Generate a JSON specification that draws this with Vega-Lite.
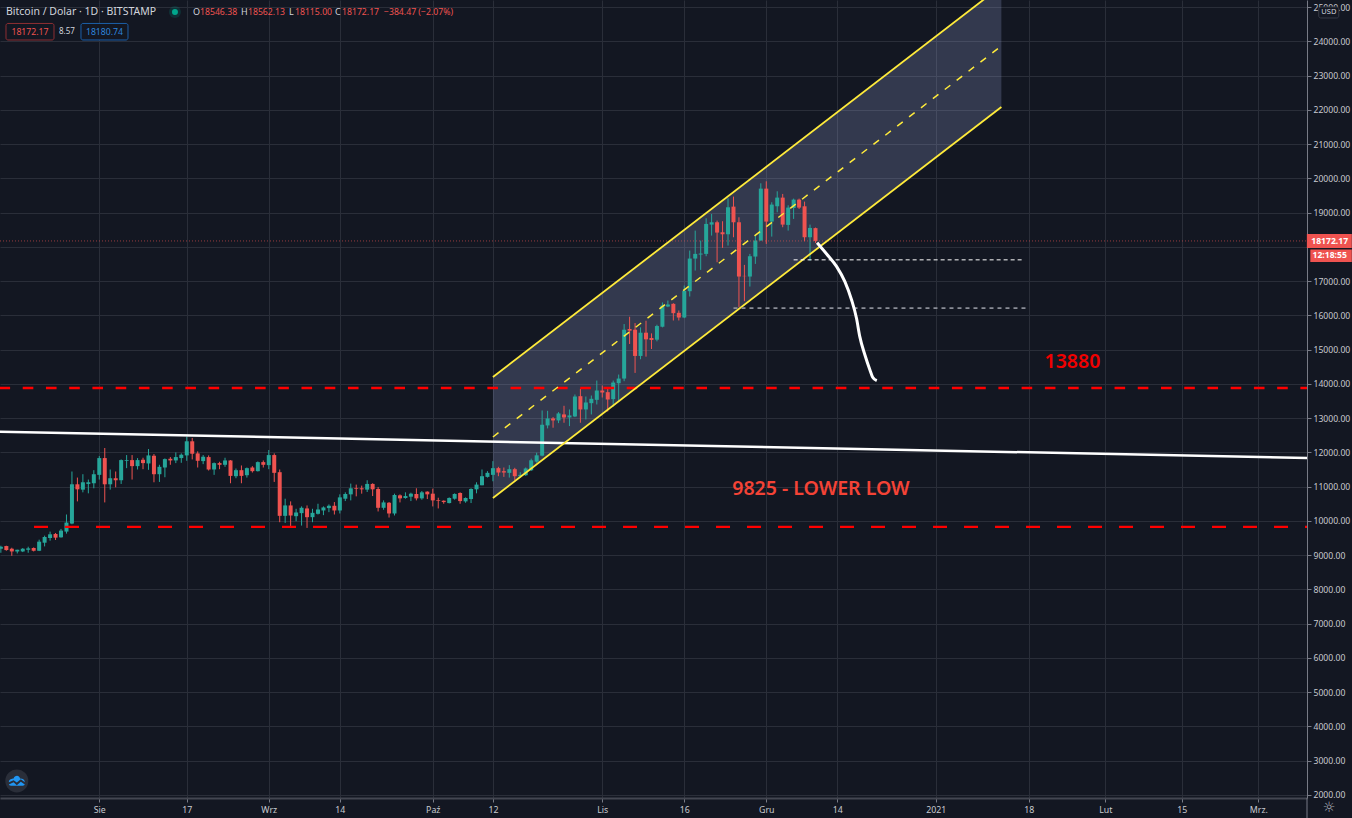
{"$schema":"https://vega.github.io/schema/vega-lite/v6.json","width":1307,"height":798,"autosize":"none","padding":{"left":0,"top":0,"right":45,"bottom":20},"background":"#131722","view":{"stroke":null,"fill":"#131722"},
"config":{"font":"Noto Sans","text":{"font":"Noto Sans"},"axis":{"labelOverlap":false,"labelSeparation":0}},
"datasets":{
"candles":[
{"date":"2020-07-14","open":9188,"high":9276,"low":9070,"close":9247},{"date":"2020-07-15","open":9266,"high":9276,"low":9129,"close":9149},{"date":"2020-07-16","open":9188,"high":9217,"low":8982,"close":9109},{"date":"2020-07-17","open":9109,"high":9158,"low":9051,"close":9158},{"date":"2020-07-18","open":9109,"high":9207,"low":9090,"close":9188},{"date":"2020-07-19","open":9158,"high":9247,"low":9070,"close":9198},{"date":"2020-07-20","open":9207,"high":9227,"low":9109,"close":9129},{"date":"2020-07-21","open":9129,"high":9452,"low":9119,"close":9394},{"date":"2020-07-22","open":9364,"high":9570,"low":9256,"close":9531},{"date":"2020-07-23","open":9501,"high":9688,"low":9423,"close":9609},{"date":"2020-07-24","open":9619,"high":9648,"low":9443,"close":9511},{"date":"2020-07-25","open":9521,"high":9766,"low":9511,"close":9717},{"date":"2020-07-26","open":9688,"high":10187,"low":9629,"close":9952},{"date":"2020-07-27","open":9923,"high":11442,"low":9903,"close":11069},{"date":"2020-07-28","open":11069,"high":11265,"low":10570,"close":10922},{"date":"2020-07-29","open":10913,"high":11363,"low":10834,"close":11128},{"date":"2020-07-30","open":11079,"high":11207,"low":10805,"close":11128},{"date":"2020-07-31","open":11099,"high":11481,"low":10952,"close":11363},
{"date":"2020-08-01","open":11344,"high":11893,"low":11207,"close":11834},{"date":"2020-08-02","open":11834,"high":12128,"low":10540,"close":11069},{"date":"2020-08-03","open":11069,"high":11501,"low":10913,"close":11246},{"date":"2020-08-04","open":11246,"high":11442,"low":10981,"close":11187},{"date":"2020-08-05","open":11187,"high":11795,"low":11079,"close":11775},{"date":"2020-08-06","open":11755,"high":11922,"low":11540,"close":11775},{"date":"2020-08-07","open":11775,"high":11922,"low":11207,"close":11599},{"date":"2020-08-08","open":11599,"high":11834,"low":11501,"close":11775},{"date":"2020-08-09","open":11785,"high":11844,"low":11510,"close":11687},{"date":"2020-08-10","open":11677,"high":12098,"low":11491,"close":11912},{"date":"2020-08-11","open":11902,"high":11951,"low":11128,"close":11363},{"date":"2020-08-12","open":11363,"high":11638,"low":11138,"close":11579},{"date":"2020-08-13","open":11559,"high":11824,"low":11275,"close":11804},{"date":"2020-08-14","open":11814,"high":11863,"low":11638,"close":11765},{"date":"2020-08-15","open":11765,"high":12000,"low":11687,"close":11863},{"date":"2020-08-16","open":11834,"high":11971,"low":11696,"close":11932},{"date":"2020-08-17","open":11912,"high":12461,"low":11755,"close":12324},{"date":"2020-08-18","open":12324,"high":12422,"low":11795,"close":11961},{"date":"2020-08-19","open":11971,"high":12030,"low":11559,"close":11755},{"date":"2020-08-20","open":11746,"high":11922,"low":11657,"close":11873},{"date":"2020-08-21","open":11863,"high":11912,"low":11471,"close":11501},{"date":"2020-08-22","open":11501,"high":11706,"low":11344,"close":11687},{"date":"2020-08-23","open":11687,"high":11726,"low":11510,"close":11638},{"date":"2020-08-24","open":11638,"high":11844,"low":11579,"close":11765},{"date":"2020-08-25","open":11765,"high":11775,"low":11099,"close":11314},{"date":"2020-08-26","open":11305,"high":11530,"low":11246,"close":11481},{"date":"2020-08-27","open":11481,"high":11618,"low":11099,"close":11314},{"date":"2020-08-28","open":11334,"high":11559,"low":11265,"close":11540},{"date":"2020-08-29","open":11559,"high":11599,"low":11412,"close":11452},{"date":"2020-08-30","open":11452,"high":11736,"low":11442,"close":11716},{"date":"2020-08-31","open":11716,"high":11765,"low":11559,"close":11638},
{"date":"2020-09-01","open":11628,"high":12069,"low":11510,"close":11922},{"date":"2020-09-02","open":11922,"high":11971,"low":11138,"close":11403},{"date":"2020-09-03","open":11422,"high":11501,"low":9962,"close":10148},{"date":"2020-09-04","open":10148,"high":10648,"low":9942,"close":10452},{"date":"2020-09-05","open":10452,"high":10570,"low":9815,"close":10158},{"date":"2020-09-06","open":10138,"high":10354,"low":9991,"close":10246},{"date":"2020-09-07","open":10227,"high":10423,"low":9864,"close":10383},{"date":"2020-09-08","open":10364,"high":10452,"low":9795,"close":10109},{"date":"2020-09-09","open":10109,"high":10354,"low":9962,"close":10236},{"date":"2020-09-10","open":10207,"high":10501,"low":10187,"close":10334},{"date":"2020-09-11","open":10305,"high":10423,"low":10168,"close":10393},{"date":"2020-09-12","open":10374,"high":10481,"low":10256,"close":10442},{"date":"2020-09-13","open":10442,"high":10550,"low":10187,"close":10305},{"date":"2020-09-14","open":10305,"high":10775,"low":10217,"close":10687},{"date":"2020-09-15","open":10648,"high":10834,"low":10579,"close":10785},{"date":"2020-09-16","open":10775,"high":11089,"low":10599,"close":10952},{"date":"2020-09-17","open":10952,"high":11060,"low":10717,"close":10932},{"date":"2020-09-18","open":10952,"high":11030,"low":10795,"close":10922},{"date":"2020-09-19","open":10913,"high":11187,"low":10844,"close":11079},{"date":"2020-09-20","open":11079,"high":11099,"low":10726,"close":10922},{"date":"2020-09-21","open":10932,"high":10991,"low":10276,"close":10383},{"date":"2020-09-22","open":10383,"high":10599,"low":10325,"close":10540},{"date":"2020-09-23","open":10530,"high":10550,"low":10099,"close":10217},{"date":"2020-09-24","open":10217,"high":10795,"low":10158,"close":10756},{"date":"2020-09-25","open":10746,"high":10775,"low":10540,"close":10658},{"date":"2020-09-26","open":10668,"high":10834,"low":10648,"close":10726},{"date":"2020-09-27","open":10707,"high":10824,"low":10579,"close":10795},{"date":"2020-09-28","open":10785,"high":10952,"low":10599,"close":10658},{"date":"2020-09-29","open":10658,"high":10873,"low":10619,"close":10834},{"date":"2020-09-30","open":10854,"high":10864,"low":10638,"close":10775},
{"date":"2020-10-01","open":10795,"high":10942,"low":10423,"close":10599},{"date":"2020-10-02","open":10609,"high":10677,"low":10364,"close":10589},{"date":"2020-10-03","open":10589,"high":10599,"low":10501,"close":10550},{"date":"2020-10-04","open":10521,"high":10687,"low":10511,"close":10668},{"date":"2020-10-05","open":10648,"high":10805,"low":10619,"close":10785},{"date":"2020-10-06","open":10815,"high":10834,"low":10501,"close":10579},{"date":"2020-10-07","open":10570,"high":10687,"low":10530,"close":10668},{"date":"2020-10-08","open":10638,"high":10952,"low":10521,"close":10932},{"date":"2020-10-09","open":10922,"high":11128,"low":10805,"close":11060},{"date":"2020-10-10","open":11040,"high":11501,"low":11040,"close":11305},{"date":"2020-10-11","open":11285,"high":11452,"low":11265,"close":11403},{"date":"2020-10-12","open":11344,"high":11745,"low":11157,"close":11540},{"date":"2020-10-13","open":11540,"high":11579,"low":11305,"close":11412},{"date":"2020-10-14","open":11452,"high":11559,"low":11285,"close":11412},{"date":"2020-10-15","open":11403,"high":11628,"low":11265,"close":11510},{"date":"2020-10-16","open":11510,"high":11550,"low":11187,"close":11305},{"date":"2020-10-17","open":11305,"high":11422,"low":11265,"close":11344},{"date":"2020-10-18","open":11334,"high":11559,"low":11314,"close":11530},{"date":"2020-10-19","open":11478,"high":11818,"low":11459,"close":11769},{"date":"2020-10-20","open":11730,"high":11992,"low":11701,"close":11915},{"date":"2020-10-21","open":11905,"high":13224,"low":11885,"close":12807},{"date":"2020-10-22","open":12787,"high":13214,"low":12700,"close":12991},{"date":"2020-10-23","open":12991,"high":13030,"low":12720,"close":12933},{"date":"2020-10-24","open":12933,"high":13176,"low":12855,"close":13137},{"date":"2020-10-25","open":13108,"high":13360,"low":12865,"close":13020},{"date":"2020-10-26","open":13020,"high":13253,"low":12768,"close":13079},{"date":"2020-10-27","open":13049,"high":13690,"low":13030,"close":13631},{"date":"2020-10-28","open":13641,"high":13855,"low":12865,"close":13253},{"date":"2020-10-29","open":13253,"high":13631,"low":12962,"close":13457},{"date":"2020-10-30","open":13437,"high":13660,"low":13108,"close":13564},{"date":"2020-10-31","open":13534,"high":14097,"low":13399,"close":13806},
{"date":"2020-11-01","open":13806,"high":13952,"low":13602,"close":13748},{"date":"2020-11-02","open":13758,"high":13884,"low":13195,"close":13544},{"date":"2020-11-03","open":13554,"high":14097,"low":13340,"close":14039},{"date":"2020-11-04","open":14019,"high":14272,"low":13496,"close":14155},{"date":"2020-11-05","open":14155,"high":15746,"low":14078,"close":15581},{"date":"2020-11-06","open":15601,"high":15959,"low":15164,"close":15552},{"date":"2020-11-07","open":15581,"high":15775,"low":14320,"close":14815},{"date":"2020-11-08","open":14815,"high":15649,"low":14718,"close":15494},{"date":"2020-11-09","open":15494,"high":15843,"low":14795,"close":15300},{"date":"2020-11-10","open":15339,"high":15474,"low":15018,"close":15280},{"date":"2020-11-11","open":15290,"high":15727,"low":15242,"close":15688},{"date":"2020-11-12","open":15668,"high":16377,"low":15649,"close":16287},{"date":"2020-11-13","open":16258,"high":16433,"low":16239,"close":16317},{"date":"2020-11-14","open":16336,"high":16355,"low":15850,"close":16064},{"date":"2020-11-15","open":16074,"high":16142,"low":15850,"close":15937},{"date":"2020-11-16","open":15937,"high":16871,"low":15918,"close":16715},{"date":"2020-11-17","open":16705,"high":17891,"low":16550,"close":17658},{"date":"2020-11-18","open":17658,"high":18474,"low":17308,"close":17794},{"date":"2020-11-19","open":17775,"high":18183,"low":17327,"close":17804},{"date":"2020-11-20","open":17794,"high":18834,"low":17726,"close":18669},{"date":"2020-11-21","open":18649,"high":18960,"low":18329,"close":18717},{"date":"2020-11-22","open":18717,"high":18766,"low":17551,"close":18416},{"date":"2020-11-23","open":18426,"high":18747,"low":17969,"close":18367},{"date":"2020-11-24","open":18367,"high":19417,"low":18037,"close":19155},{"date":"2020-11-25","open":19174,"high":19466,"low":18280,"close":18717},{"date":"2020-11-26","open":18717,"high":18863,"low":16239,"close":17133},{"date":"2020-11-27","open":17152,"high":17473,"low":16414,"close":17143},{"date":"2020-11-28","open":17133,"high":17794,"low":16841,"close":17726},{"date":"2020-11-29","open":17716,"high":18329,"low":17502,"close":18183},{"date":"2020-11-30","open":18183,"high":19855,"low":18183,"close":19699},
{"date":"2020-12-01","open":19699,"high":19913,"low":18086,"close":18737},{"date":"2020-12-02","open":18737,"high":19301,"low":18299,"close":19233},{"date":"2020-12-03","open":19184,"high":19621,"low":19009,"close":19437},{"date":"2020-12-04","open":19437,"high":19544,"low":18572,"close":18649},{"date":"2020-12-05","open":18640,"high":19213,"low":18474,"close":19145},{"date":"2020-12-06","open":19135,"high":19408,"low":18815,"close":19378},{"date":"2020-12-07","open":19378,"high":19408,"low":19106,"close":19145},{"date":"2020-12-08","open":19184,"high":19320,"low":18163,"close":18280},{"date":"2020-12-09","open":18280,"high":18649,"low":17600,"close":18552},{"date":"2020-12-10","open":18546.38,"high":18562.13,"low":18115,"close":18172.17}
],
"channel":[{"date":"2020-10-12","upper":14201,"mid":12450,"lower":10670},{"date":"2021-01-13","upper":25614,"mid":23863,"lower":22082}],
"curve":[{"date":"2020-12-10T07:00:00Z","price":18121},{"date":"2020-12-12T01:00:00Z","price":17792},{"date":"2020-12-13T21:00:00Z","price":17421},{"date":"2020-12-15T09:00:00Z","price":16983},{"date":"2020-12-16T14:30:00Z","price":16449},{"date":"2020-12-17T12:00:00Z","price":15915},{"date":"2020-12-18T02:30:00Z","price":15378},{"date":"2020-12-19T01:00:00Z","price":14844},{"date":"2020-12-19T23:00:00Z","price":14406},{"date":"2020-12-20T11:00:00Z","price":14193},{"date":"2020-12-21T05:00:00Z","price":14093}]
},
"layer":[
{"data":{"name":"channel"},"mark":{"type":"area","clip":true,"color":"#b4c4ff","opacity":0.2,"interpolate":"linear"},
"encoding":{"x":{"field":"date","type":"temporal","title":null,"scale":{"type":"utc","padding":0,"domain":["2020-07-13T20:10:00Z","2021-03-09T21:36:00Z"]},
"axis":{"orient":"bottom","title":null,"values":["2020-08-01","2020-08-17","2020-09-01","2020-09-14","2020-10-01","2020-10-12","2020-11-01","2020-11-16","2020-12-01","2020-12-14","2021-01-01","2021-01-18","2021-02-01","2021-02-15","2021-03-01"],"labelExpr":"utcdate(datum.value)==1 ? ['2021','Lut','Mrz.','','','','','Sie','Wrz','Paź','Lis','Gru'][utcmonth(datum.value)] : ''+utcdate(datum.value)","grid":true,"gridColor":"#2a2e39","gridWidth":1,"tickSize":4,"tickColor":"#787b86","domainColor":"#434651","domainWidth":2,"labelColor":"#c8cad0","labelFontSize":8.8,"labelFont":"Noto Sans","labelPadding":3,"labelOverlap":false,"labelFlush":false,"labelBound":false,"zindex":0}},
"y":{"field":"upper","type":"quantitative","title":null,"scale":{"domain":[1912,25205],"nice":false,"zero":false},
"axis":{"orient":"right","title":null,"values":[2000,3000,4000,5000,6000,7000,8000,9000,10000,11000,12000,13000,14000,15000,16000,17000,18000,19000,20000,21000,22000,23000,24000,25000],"tickCount":24,"labelExpr":"datum.value==18000 ? '' : format(datum.value,'.2f')","grid":true,"gridColor":"#2a2e39","gridWidth":1,"tickSize":4,"tickColor":"#787b86","domainColor":"#787b86","domainWidth":1,"labelColor":"#c8cad0","labelFontSize":8.6,"labelFont":"Noto Sans","labelPadding":2,"labelOverlap":false,"labelFlush":false,"labelBound":false,"zindex":0}},
"y2":{"field":"lower"}}},
{"data":{"name":"candles"},"mark":{"type":"rule","strokeWidth":1},"encoding":{"x":{"field":"date","type":"temporal"},"y":{"field":"low","type":"quantitative"},"y2":{"field":"high"},"color":{"condition":{"test":"datum.close>=datum.open","value":"#26a69a"},"value":"#ef5350"}}},
{"data":{"name":"candles"},"mark":{"type":"bar","size":4},"encoding":{"x":{"field":"date","type":"temporal"},"y":{"field":"open","type":"quantitative"},"y2":{"field":"close"},"color":{"condition":{"test":"datum.close>=datum.open","value":"#26a69a"},"value":"#ef5350"}}},
{"data":{"values":[{"date":"2020-07-13T20:10:00Z","price":18172.17},{"date":"2021-03-09T21:36:00Z","price":18172.17}]},"mark":{"type":"line","color":"#ef5350","opacity":0.6,"strokeWidth":1,"strokeDash":[1,2]},"encoding":{"x":{"field":"date","type":"temporal"},"y":{"field":"price","type":"quantitative"}}},
{"data":{"values":[{"date":"2020-07-13T20:10:00Z","price":12605},{"date":"2021-03-09T21:36:00Z","price":11837}]},"mark":{"type":"line","color":"#ffffff","strokeWidth":2.5},"encoding":{"x":{"field":"date","type":"temporal"},"y":{"field":"price","type":"quantitative"}}},
{"data":{"values":[{"date":"2020-07-13T20:10:00Z","price":13880},{"date":"2021-03-09T21:36:00Z","price":13880}]},"mark":{"type":"line","color":"#ff0000","strokeWidth":2.3,"strokeDash":[10.6,12.63],"strokeDashOffset":0.5},"encoding":{"x":{"field":"date","type":"temporal"},"y":{"field":"price","type":"quantitative"}}},
{"data":{"values":[{"date":"2020-07-20T01:30:00Z","price":9825},{"date":"2021-03-09T21:36:00Z","price":9825}]},"mark":{"type":"line","color":"#ff0000","strokeWidth":2.3,"strokeDash":[14,17]},"encoding":{"x":{"field":"date","type":"temporal"},"y":{"field":"price","type":"quantitative"}}},
{"data":{"name":"channel"},"mark":{"type":"line","clip":true,"color":"#ffeb3b","strokeWidth":1.8},"encoding":{"x":{"field":"date","type":"temporal"},"y":{"field":"upper","type":"quantitative"}}},
{"data":{"name":"channel"},"mark":{"type":"line","clip":true,"color":"#ffeb3b","strokeWidth":1.5,"strokeDash":[7,8]},"encoding":{"x":{"field":"date","type":"temporal"},"y":{"field":"mid","type":"quantitative"}}},
{"data":{"name":"channel"},"mark":{"type":"line","clip":true,"color":"#ffeb3b","strokeWidth":1.8},"encoding":{"x":{"field":"date","type":"temporal"},"y":{"field":"lower","type":"quantitative"}}},
{"data":{"values":[{"date":"2020-12-06","price":17620},{"date":"2021-01-17","price":17620}]},"mark":{"type":"line","color":"#ffffff","strokeWidth":1,"strokeDash":[4,3]},"encoding":{"x":{"field":"date","type":"temporal"},"y":{"field":"price","type":"quantitative"}}},
{"data":{"values":[{"date":"2020-11-25","price":16210},{"date":"2021-01-18","price":16210}]},"mark":{"type":"line","color":"#8a8d97","strokeWidth":1.8,"strokeDash":[4,4]},"encoding":{"x":{"field":"date","type":"temporal"},"y":{"field":"price","type":"quantitative"}}},
{"data":{"name":"curve"},"mark":{"type":"line","color":"#ffffff","strokeWidth":3,"interpolate":"monotone"},"encoding":{"x":{"field":"date","type":"temporal"},"y":{"field":"price","type":"quantitative"}}},
{"data":{"values":[{"date":"2021-01-26","price":14639,"label":"13880"}]},"mark":{"type":"text","color":"#f00000","font":"Noto Sans","fontSize":19.5,"fontWeight":600,"align":"center","baseline":"middle"},"encoding":{"x":{"field":"date","type":"temporal"},"y":{"field":"price","type":"quantitative"},"text":{"field":"label"}}},
{"data":{"values":[{"date":"2020-12-11","price":10932,"label":"9825 - LOWER LOW"}]},"mark":{"type":"text","color":"#f44336","font":"Noto Sans","fontSize":19.5,"fontWeight":600,"align":"center","baseline":"middle"},"encoding":{"x":{"field":"date","type":"temporal"},"y":{"field":"price","type":"quantitative"},"text":{"field":"label"}}},
{"data":{"values":[{"date":"2020-07-14T22:30:00Z","price":24855,"label":"Bitcoin / Dolar · 1D · BITSTAMP"}]},"mark":{"type":"text","color":"#d1d4dc","font":"Noto Sans","fontSize":10.5,"align":"left","baseline":"middle"},"encoding":{"x":{"field":"date","type":"temporal"},"y":{"field":"price","type":"quantitative"},"text":{"field":"label"}}},
{"data":{"values":[{"date":"2020-08-14T20:10:00Z","price":24855}]},"mark":{"type":"point","filled":true,"color":"#009688","opacity":0.2,"size":144},"encoding":{"x":{"field":"date","type":"temporal"},"y":{"field":"price","type":"quantitative"}}},
{"data":{"values":[{"date":"2020-08-14T20:10:00Z","price":24855}]},"mark":{"type":"point","filled":true,"color":"#00a68c","opacity":1,"size":36},"encoding":{"x":{"field":"date","type":"temporal"},"y":{"field":"price","type":"quantitative"}}},
{"data":{"values":[{"date":"2020-08-18T03:20:00Z","price":24855,"label":"O"},{"date":"2020-08-26T21:50:00Z","price":24855,"label":"H"},{"date":"2020-09-04T16:35:00Z","price":24855,"label":"L"},{"date":"2020-09-13T02:40:00Z","price":24855,"label":"C"}]},"mark":{"type":"text","color":"#d1d4dc","font":"Noto Sans","fontSize":9,"align":"left","baseline":"middle"},"encoding":{"x":{"field":"date","type":"temporal"},"y":{"field":"price","type":"quantitative"},"text":{"field":"label"}}},
{"data":{"values":[{"date":"2020-08-19T10:05:00Z","price":24855,"label":"18546.38"},{"date":"2020-08-28T04:35:00Z","price":24855,"label":"18562.13"},{"date":"2020-09-05T19:00:00Z","price":24855,"label":"18115.00"},{"date":"2020-09-14T09:20:00Z","price":24855,"label":"18172.17"},{"date":"2020-09-22T01:40:00Z","price":24855,"label":"−384.47 (−2.07%)"}]},"mark":{"type":"text","color":"#ef5350","font":"Noto Sans","fontSize":8.7,"align":"left","baseline":"middle"},"encoding":{"x":{"field":"date","type":"temporal"},"y":{"field":"price","type":"quantitative"},"text":{"field":"label"}}},
{"data":{"values":[{"date":"2020-07-14T22:30:00Z","date2":"2020-07-23T17:10:00Z","top":24520,"bottom":24038}]},"mark":{"type":"rect","fill":"#131722","stroke":"#8f2f33","strokeWidth":1,"cornerRadius":2},"encoding":{"x":{"field":"date","type":"temporal"},"x2":{"field":"date2"},"y":{"field":"top","type":"quantitative"},"y2":{"field":"bottom"}}},
{"data":{"values":[{"date":"2020-07-28T15:40:00Z","date2":"2020-08-06T06:00:00Z","top":24520,"bottom":24038}]},"mark":{"type":"rect","fill":"#131722","stroke":"#1c5fa8","strokeWidth":1,"cornerRadius":2},"encoding":{"x":{"field":"date","type":"temporal"},"x2":{"field":"date2"},"y":{"field":"top","type":"quantitative"},"y2":{"field":"bottom"}}},
{"data":{"values":[{"date":"2020-07-19T07:50:00Z","price":24271,"label":"18172.17"}]},"mark":{"type":"text","color":"#ef5350","font":"Noto Sans","fontSize":8.7,"align":"center","baseline":"middle"},"encoding":{"x":{"field":"date","type":"temporal"},"y":{"field":"price","type":"quantitative"},"text":{"field":"label"}}},
{"data":{"values":[{"date":"2020-07-26T02:10:00Z","price":24271,"label":"8.57"}]},"mark":{"type":"text","color":"#d1d4dc","font":"Noto Sans","fontSize":8,"align":"center","baseline":"middle"},"encoding":{"x":{"field":"date","type":"temporal"},"y":{"field":"price","type":"quantitative"},"text":{"field":"label"}}},
{"data":{"values":[{"date":"2020-08-01T22:50:00Z","price":24271,"label":"18180.74"}]},"mark":{"type":"text","color":"#2e86de","font":"Noto Sans","fontSize":8.7,"align":"center","baseline":"middle"},"encoding":{"x":{"field":"date","type":"temporal"},"y":{"field":"price","type":"quantitative"},"text":{"field":"label"}}},
{"data":{"values":[{"date":"2021-03-09T21:00:00Z","date2":"2021-03-18T02:20:00Z","top":18375,"bottom":17967}]},"mark":{"type":"rect","fill":"#ef5350"},"encoding":{"x":{"field":"date","type":"temporal"},"x2":{"field":"date2"},"y":{"field":"top","type":"quantitative"},"y2":{"field":"bottom"}}},
{"data":{"values":[{"date":"2021-03-10T12:10:00Z","date2":"2021-03-18T02:20:00Z","top":17923,"bottom":17558}]},"mark":{"type":"rect","fill":"#ef5350"},"encoding":{"x":{"field":"date","type":"temporal"},"x2":{"field":"date2"},"y":{"field":"top","type":"quantitative"},"y2":{"field":"bottom"}}},
{"data":{"values":[{"date":"2021-03-14T01:10:00Z","price":18171,"label":"18172.17"},{"date":"2021-03-14T01:10:00Z","price":17748,"label":"12:18:55"}]},"mark":{"type":"text","color":"#ffffff","font":"Noto Sans","fontSize":8.6,"fontWeight":"bold","align":"center","baseline":"middle"},"encoding":{"x":{"field":"date","type":"temporal"},"y":{"field":"price","type":"quantitative"},"text":{"field":"label"}}},
{"data":{"values":[{"date":"2021-03-12T01:10:00Z","date2":"2021-03-15T17:10:00Z","top":25001,"bottom":24680}]},"mark":{"type":"rect","fill":"#131722","stroke":"#363a45","strokeWidth":1,"cornerRadius":2},"encoding":{"x":{"field":"date","type":"temporal"},"x2":{"field":"date2"},"y":{"field":"top","type":"quantitative"},"y2":{"field":"bottom"}}},
{"data":{"values":[{"date":"2021-03-13T21:20:00Z","price":24841,"label":"USD"}]},"mark":{"type":"text","color":"#d1d4dc","font":"Noto Sans","fontSize":7.5,"align":"center","baseline":"middle"},"encoding":{"x":{"field":"date","type":"temporal"},"y":{"field":"price","type":"quantitative"},"text":{"field":"label"}}},
{"data":{"values":[{"date":"2021-03-13T22:00:00Z","price":1621,"label":"☼"}]},"mark":{"type":"text","color":"#b2b5be","font":"DejaVu Sans","fontSize":14,"align":"center","baseline":"middle"},"encoding":{"x":{"field":"date","type":"temporal"},"y":{"field":"price","type":"quantitative"},"text":{"field":"label"}}},
{"data":{"values":[{"date":"2021-03-09T21:36:00Z","low":1328,"high":1912}]},"mark":{"type":"rule","color":"#787b86","strokeWidth":1},"encoding":{"x":{"field":"date","type":"temporal"},"y":{"field":"low","type":"quantitative"},"y2":{"field":"high"}}},
{"data":{"values":[{"date":"2020-07-16T22:00:00Z","price":2409}]},"mark":{"type":"point","filled":true,"color":"#2a2e39","opacity":1,"size":529},"encoding":{"x":{"field":"date","type":"temporal"},"y":{"field":"price","type":"quantitative"}}},
{"data":{"values":[{"date":"2020-07-16T22:00:00Z","price":2409}]},"mark":{"type":"point","filled":true,"color":"#2196f3","opacity":1,"size":256,"shape":"M-1,0.15 C-1,-0.2 -0.6,-0.3 -0.4,-0.3 C-0.3,-0.7 0.3,-0.8 0.4,-0.3 C0.8,-0.3 1,-0.1 1,0.15 L0.5,-0.2 L0,0.2 L-0.4,-0.1 Z M-1,0.45 L-0.4,0.15 L0,0.55 L0.5,0.1 L1,0.45 C0.9,0.6 0.8,0.6 0.6,0.6 L-0.6,0.6 C-0.8,0.6 -0.9,0.6 -1,0.45 Z"},"encoding":{"x":{"field":"date","type":"temporal"},"y":{"field":"price","type":"quantitative"}}}
]}
